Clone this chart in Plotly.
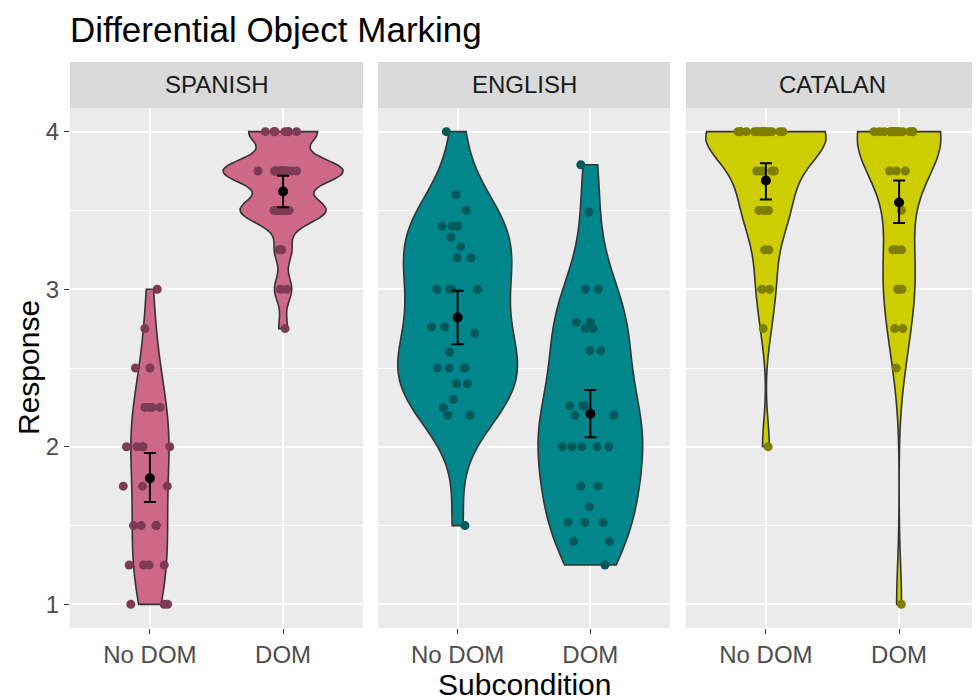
import numpy as np
import plotly.graph_objects as go

# ---------------- data ----------------
languages = ["SPANISH", "ENGLISH", "CATALAN"]
subconditions = ["No DOM", "DOM"]

spanish_nodom = [1.0, 1.0, 1.0, 1.25, 1.25, 1.25, 1.25, 1.5, 1.5, 1.5, 1.5,
                 1.75, 1.75, 1.75, 2.0, 2.0, 2.0, 2.0, 2.0, 2.25, 2.25, 2.25, 2.25,
                 2.5, 2.5, 2.75, 3.0]
spanish_dom = [2.75, 3.0, 3.0, 3.25, 3.25,
               3.5, 3.5, 3.5, 3.5, 3.5, 3.5, 3.5, 3.5, 3.5, 3.5,
               3.75, 3.75, 3.75, 3.75, 3.75, 3.75, 3.75, 3.75, 3.75, 3.75, 3.75, 3.75, 3.75, 3.75,
               4.0, 4.0, 4.0, 4.0, 4.0, 4.0, 4.0, 4.0]
english_nodom = [1.5, 2.2, 2.2, 2.25, 2.3, 2.4, 2.4, 2.5, 2.5, 2.5, 2.5, 2.6, 2.72,
                 2.76, 2.76, 3.0, 3.0, 3.0, 3.0, 3.2, 3.2, 3.27, 3.33, 3.4, 3.4, 3.4,
                 3.5, 3.6, 4.0]
english_dom = [1.25, 1.4, 1.4, 1.52, 1.52, 1.52, 1.62, 1.75, 1.75, 2.0, 2.0, 2.0, 2.0,
               2.0, 2.2, 2.2, 2.26, 2.26, 2.26, 2.61, 2.61, 2.75, 2.75, 2.79, 2.79,
               3.0, 3.0, 3.49, 3.79]
catalan_nodom = [2.0, 2.75, 3.0, 3.0, 3.25, 3.25, 3.5, 3.5, 3.5, 3.5, 3.5,
                 3.75, 3.75, 3.75, 3.75, 3.75,
                 4.0, 4.0, 4.0, 4.0, 4.0, 4.0, 4.0, 4.0, 4.0, 4.0, 4.0, 4.0, 4.0, 4.0, 4.0, 4.0]
catalan_dom = [1.0, 2.5, 2.75, 2.75, 3.0, 3.0, 3.0, 3.25, 3.25, 3.25, 3.5,
               3.75, 3.75, 3.75,
               4.0, 4.0, 4.0, 4.0, 4.0, 4.0, 4.0, 4.0, 4.0, 4.0, 4.0, 4.0, 4.0, 4.0, 4.0]

# mean and interval ends, per language, in subcondition order
mean_values = [[1.80, 3.62], [2.82, 2.21], [3.69, 3.55]]
ci_lower = [[1.65, 3.52], [2.65, 2.06], [3.57, 3.42]]
ci_upper = [[1.96, 3.72], [2.99, 2.36], [3.80, 3.69]]

responses = [[spanish_nodom, spanish_dom],
             [english_nodom, english_dom],
             [catalan_nodom, catalan_dom]]

fill_colors = ["#CD6889", "#00868B", "#CDCD00"]
point_colors = ["#7D3B56", "#005A5C", "#7E7E00"]

tick_values = [1, 2, 3, 4]
minor_values = [1.5, 2.5, 3.5]
title_text = "Differential Object Marking"
x_title = "Subcondition"
y_title = "Response"


def bw_nrd0(vals):
    v = np.asarray(vals, dtype=float)
    hi = v.std(ddof=1)
    q75, q25 = np.percentile(v, [75, 25])
    lo = min(hi, (q75 - q25) / 1.34)
    if lo == 0:
        lo = hi if hi else 1.0
    return 0.9 * lo * len(v) ** -0.2


def kde_peak(vals, bw):
    v = np.asarray(vals, dtype=float)
    grid = np.linspace(v.min(), v.max(), 512)
    dens = np.exp(-0.5 * ((grid[:, None] - v[None, :]) / bw) ** 2).sum(axis=1)
    return (dens / (len(v) * bw * np.sqrt(2 * np.pi))).max()


# ---------------- layout geometry (page has an 8px body margin) ----------------
W, H = 972, 692
ml, mr, mt, mb = 62, 1, 100, 72
pw = W - ml - mr
ph = H - mt - mb
panel_px = [(0, 293), (308, 600), (616, pw)]
domains = [[a / pw, b / pw] for a, b in panel_px]
strip_h = 46 / ph
max_violin_width = 0.9

fig = go.Figure()

for i, lang in enumerate(languages):
    xa = "x" if i == 0 else f"x{i+1}"
    ya = "y" if i == 0 else f"y{i+1}"
    bws = [bw_nrd0(v) for v in responses[i]]
    peaks = [kde_peak(v, b) for v, b in zip(responses[i], bws)]
    top = max(peaks)
    for j, sub in enumerate(subconditions):
        vals = responses[i][j]
        # violin body (area-scaled within the panel, like ggplot2's scale = "area")
        fig.add_trace(go.Violin(
            x=[sub] * len(vals), y=vals,
            xaxis=xa, yaxis=ya,
            fillcolor=fill_colors[i],
            line=dict(color="#333333", width=1.6),
            points=False,
            spanmode="hard", bandwidth=bws[j],
            scalemode="width", width=max_violin_width * peaks[j] / top,
            box_visible=False, meanline_visible=False,
            showlegend=False, hoverinfo="skip", opacity=1,
        ))
    for j, sub in enumerate(subconditions):
        vals = responses[i][j]
        # jittered raw points
        fig.add_trace(go.Box(
            x=[sub] * len(vals), y=vals,
            xaxis=xa, yaxis=ya,
            boxpoints="all", pointpos=0, jitter=0.5, width=max_violin_width,
            fillcolor="rgba(0,0,0,0)", line=dict(width=0, color="rgba(0,0,0,0)"),
            marker=dict(color=point_colors[i], size=9, line=dict(width=0)),
            showlegend=False, hoverinfo="y",
        ))
    m = mean_values[i]
    fig.add_trace(go.Scatter(
        x=subconditions, y=m, xaxis=xa, yaxis=ya, mode="markers",
        marker=dict(color="black", size=10),
        error_y=dict(type="data", symmetric=False,
                     array=[u - c for u, c in zip(ci_upper[i], m)],
                     arrayminus=[c - l for l, c in zip(ci_lower[i], m)],
                     color="black", thickness=2, width=6),
        showlegend=False, hoverinfo="y",
    ))

layout = dict(
    width=W, height=H,
    margin=dict(l=ml, r=mr, t=mt, b=mb),
    paper_bgcolor="white", plot_bgcolor="#EBEBEB",
    violinmode="overlay", boxmode="overlay",
    font=dict(family="Liberation Sans, Arial, sans-serif", color="#4D4D4D"),
    title=dict(text=title_text, x=ml / W, xref="container", xanchor="left",
               y=1 - 22 / H, yref="container", yanchor="middle",
               font=dict(size=35, color="black")),
)

for i in range(3):
    key = "" if i == 0 else str(i + 1)
    layout["xaxis" + key] = dict(
        domain=domains[i], type="category",
        categoryorder="array", categoryarray=subconditions,
        range=[-0.6, 1.6], showgrid=True, gridcolor="white", gridwidth=2,
        zeroline=False, showline=False, ticks="outside", ticklen=5,
        tickcolor="#333333", tickwidth=1,
        tickfont=dict(size=24, color="#4D4D4D"), anchor="y" + key,
        fixedrange=True,
    )
    ydict = dict(
        range=[0.85, 4.15], tickmode="array", tickvals=tick_values,
        showgrid=True, gridcolor="white", gridwidth=2,
        minor=dict(tickmode="array", tickvals=minor_values, showgrid=True,
                   gridcolor="white", gridwidth=1, ticks=""),
        zeroline=False, showline=False, anchor="x" + key, fixedrange=True,
    )
    if i == 0:
        ydict.update(ticks="outside", ticklen=5, tickcolor="#333333", tickwidth=1,
                     tickfont=dict(size=24, color="#4D4D4D"))
    else:
        ydict.update(matches="y", showticklabels=False, ticks="")
    layout["yaxis" + key] = ydict

shapes = []
annotations = []
for i, lang in enumerate(languages):
    d0, d1 = domains[i]
    shapes.append(dict(type="rect", xref="paper", yref="paper",
                       x0=d0, x1=d1, y0=1, y1=1 + strip_h,
                       fillcolor="#D9D9D9", line=dict(width=0), layer="below"))
    annotations.append(dict(text=lang, xref="paper", yref="paper",
                            x=(d0 + d1) / 2, y=1 + strip_h / 2,
                            xanchor="center", yanchor="middle", showarrow=False,
                            font=dict(size=24, color="#1A1A1A")))

annotations.append(dict(text=x_title, xref="paper", yref="paper", x=0.5,
                        y=-56 / ph, xanchor="center", yanchor="middle",
                        showarrow=False, font=dict(size=30, color="black")))
annotations.append(dict(text=y_title, xref="paper", yref="paper",
                        x=-42 / pw, y=(628 - 368) / ph, textangle=-90,
                        xanchor="center", yanchor="middle",
                        showarrow=False, font=dict(size=30, color="black")))

layout["shapes"] = shapes
layout["annotations"] = annotations
fig.update_layout(**layout)

fig.write_html("out.html")
